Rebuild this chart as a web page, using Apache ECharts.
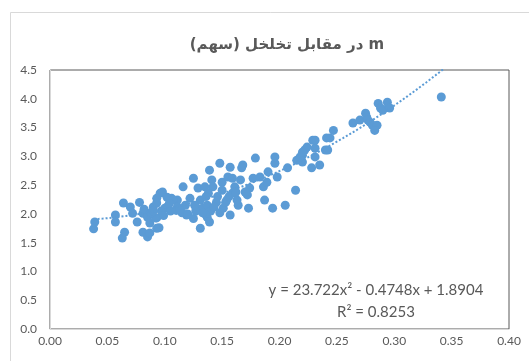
<!DOCTYPE html>
<html>
<head>
<meta charset="utf-8">
<script src="https://cdn.jsdelivr.net/npm/echarts@6/dist/echarts.min.js"></script>
<style>
  html, body { margin: 0; padding: 0; background: #fff; }
  #chart { width: 529px; height: 361px; }
</style>
</head>
<body>
<div id="chart"></div>
<script>
const chartTitle = "\u202Bm در مقابل تخلخل (سهم)\u202C";

// porosity (fraction) and m
const porosity = [
  0.038, 0.039, 0.057, 0.057, 0.063, 0.065, 0.064, 0.070, 0.072, 0.078,
  0.076, 0.081, 0.085, 0.081, 0.085, 0.087, 0.093, 0.090, 0.093, 0.096,
  0.102, 0.106, 0.111, 0.093, 0.098, 0.093, 0.102, 0.107, 0.111, 0.100,
  0.092, 0.095, 0.087, 0.116, 0.125, 0.122, 0.119, 0.129, 0.131, 0.128,
  0.133, 0.137, 0.139, 0.141, 0.142, 0.138, 0.135, 0.131, 0.137, 0.139,
  0.148, 0.150, 0.150, 0.154, 0.151, 0.157, 0.157, 0.155, 0.159, 0.161,
  0.166, 0.168, 0.167, 0.159, 0.163, 0.164, 0.173, 0.172, 0.174, 0.179,
  0.177, 0.183, 0.186, 0.189, 0.187, 0.194, 0.190, 0.196, 0.196, 0.198,
  0.205, 0.207, 0.214, 0.215, 0.220, 0.222, 0.220, 0.224, 0.229, 0.231,
  0.231, 0.228, 0.235, 0.240, 0.241, 0.218, 0.220, 0.231, 0.242, 0.244,
  0.247, 0.264, 0.270, 0.275, 0.276, 0.277, 0.279, 0.281, 0.285, 0.283,
  0.286, 0.288, 0.290, 0.294, 0.295, 0.296, 0.341, 0.105, 0.115, 0.120,
  0.140, 0.145, 0.125, 0.135, 0.110, 0.118, 0.146, 0.153, 0.082, 0.088,
  0.097, 0.104, 0.113, 0.127, 0.133, 0.143, 0.148, 0.156, 0.162, 0.170,
  0.126, 0.136, 0.090, 0.099
];
const mValues = [
  1.74, 1.86, 1.98, 1.86, 1.58, 1.68, 2.19, 2.12, 2.01, 2.20,
  1.86, 2.01, 1.94, 1.68, 1.60, 1.84, 1.75, 2.12, 2.27, 2.36,
  2.12, 2.27, 2.24, 1.93, 2.38, 2.19, 2.29, 2.24, 2.12, 2.10,
  1.93, 1.76, 1.67, 2.47, 2.62, 2.27, 1.98, 2.45, 2.24, 2.10,
  2.10, 2.15, 2.76, 2.59, 2.47, 2.36, 2.47, 1.75, 1.94, 1.86,
  2.88, 2.55, 2.41, 2.24, 2.10, 1.98, 2.81, 2.64, 2.62, 2.47,
  2.59, 2.85, 2.80, 2.36, 2.24, 2.15, 2.10, 2.33, 2.45, 2.97,
  2.62, 2.64, 2.47, 2.55, 2.24, 2.10, 2.73, 2.88, 2.99, 2.64,
  2.15, 2.80, 2.41, 2.93, 3.02, 3.11, 2.90, 3.16, 3.28, 3.14,
  2.99, 2.80, 2.85, 3.11, 3.32, 2.99, 3.07, 3.28, 3.11, 3.32,
  3.45, 3.58, 3.63, 3.75, 3.68, 3.63, 3.59, 3.54, 3.54, 3.45,
  3.92, 3.84, 3.80, 3.94, 3.85, 3.84, 4.03, 2.05, 2.02, 2.00,
  2.05, 2.20, 1.92, 2.00, 2.06, 2.15, 2.30, 2.20, 2.08, 2.02,
  2.05, 2.18, 2.08, 2.05, 2.02, 2.12, 2.02, 2.30, 2.38, 2.38,
  2.15, 2.30, 2.05, 1.97
];

// printed trendline: y = a*x^2 + b*x + c
const trendCoef = [23.722, -0.4748, 1.8904];
const trendLabel = ["y = 23.722x\u00B2 - 0.4748x + 1.8904", "R\u00B2 = 0.8253"];

const xTicks = [0, 0.05, 0.10, 0.15, 0.20, 0.25, 0.30, 0.35, 0.40];
const yTicks = [0, 0.5, 1.0, 1.5, 2.0, 2.5, 3.0, 3.5, 4.0, 4.5];

const points = porosity.map((x, i) => [x, mValues[i]]);

const trendFrom = Math.min(...porosity);
const trendLine = [];
for (let k = 0; k <= 80; k++) {
  const x = trendFrom + (0.36 - trendFrom) * k / 80;
  const y = trendCoef[0] * x * x + trendCoef[1] * x + trendCoef[2];
  trendLine.push([x, y]);
}

const font = "Lato, 'Open Sans', sans-serif";
const chart = echarts.init(document.getElementById("chart"), null, { renderer: "canvas" });

chart.setOption({
  backgroundColor: "#fff",
  animation: false,
  title: {
    text: chartTitle,
    left: 282,
    top: 33,
    textAlign: "center",
    textStyle: { fontFamily: "'DejaVu Sans', 'Noto Sans', sans-serif", fontSize: 15, fontWeight: "bold", color: "#595959" }
  },
  graphic: [
    {
      type: "rect",
      shape: { x: 10.5, y: 12.5, width: 600, height: 400 },
      style: { fill: null, stroke: "#D9D9D9", lineWidth: 1 },
      silent: true,
      z: -1
    },
    {
      type: "text",
      style: {
        text: trendLabel[0], x: 376, y: 290,
        align: "center", verticalAlign: "middle",
        font: "15px " + font, fill: "#595959"
      }
    },
    {
      type: "text",
      style: {
        text: trendLabel[1], x: 376, y: 312,
        align: "center", verticalAlign: "middle",
        font: "15px " + font, fill: "#595959"
      }
    }
  ],
  grid: {
    left: 50, top: 70, right: 20, bottom: 32,
    show: true, borderColor: "#595959", borderWidth: 1
  },
  xAxis: {
    type: "value",
    min: xTicks[0],
    max: xTicks[xTicks.length - 1],
    interval: 0.05,
    splitLine: { show: false },
    axisTick: { show: false },
    axisLine: { lineStyle: { color: "#D9D9D9" } },
    axisLabel: {
      margin: 6, color: "#595959", fontSize: 12, fontFamily: font,
      formatter: v => v.toFixed(2)
    }
  },
  yAxis: {
    type: "value",
    min: yTicks[0],
    max: yTicks[yTicks.length - 1],
    interval: 0.5,
    splitLine: { show: false },
    axisTick: { show: false },
    axisLine: { show: true, lineStyle: { color: "#D9D9D9" } },
    axisLabel: {
      margin: 13, color: "#595959", fontSize: 12, fontFamily: font,
      formatter: v => v.toFixed(1)
    }
  },
  series: [
    {
      type: "scatter",
      data: points,
      symbolSize: 9,
      itemStyle: { color: "#5B9BD5", opacity: 1 }
    },
    {
      type: "line",
      data: trendLine,
      showSymbol: false,
      clip: true,
      smooth: false,
      lineStyle: { color: "#5B9BD5", width: 2, type: [2, 2] },
      z: 3
    }
  ]
});
</script>
</body>
</html>
